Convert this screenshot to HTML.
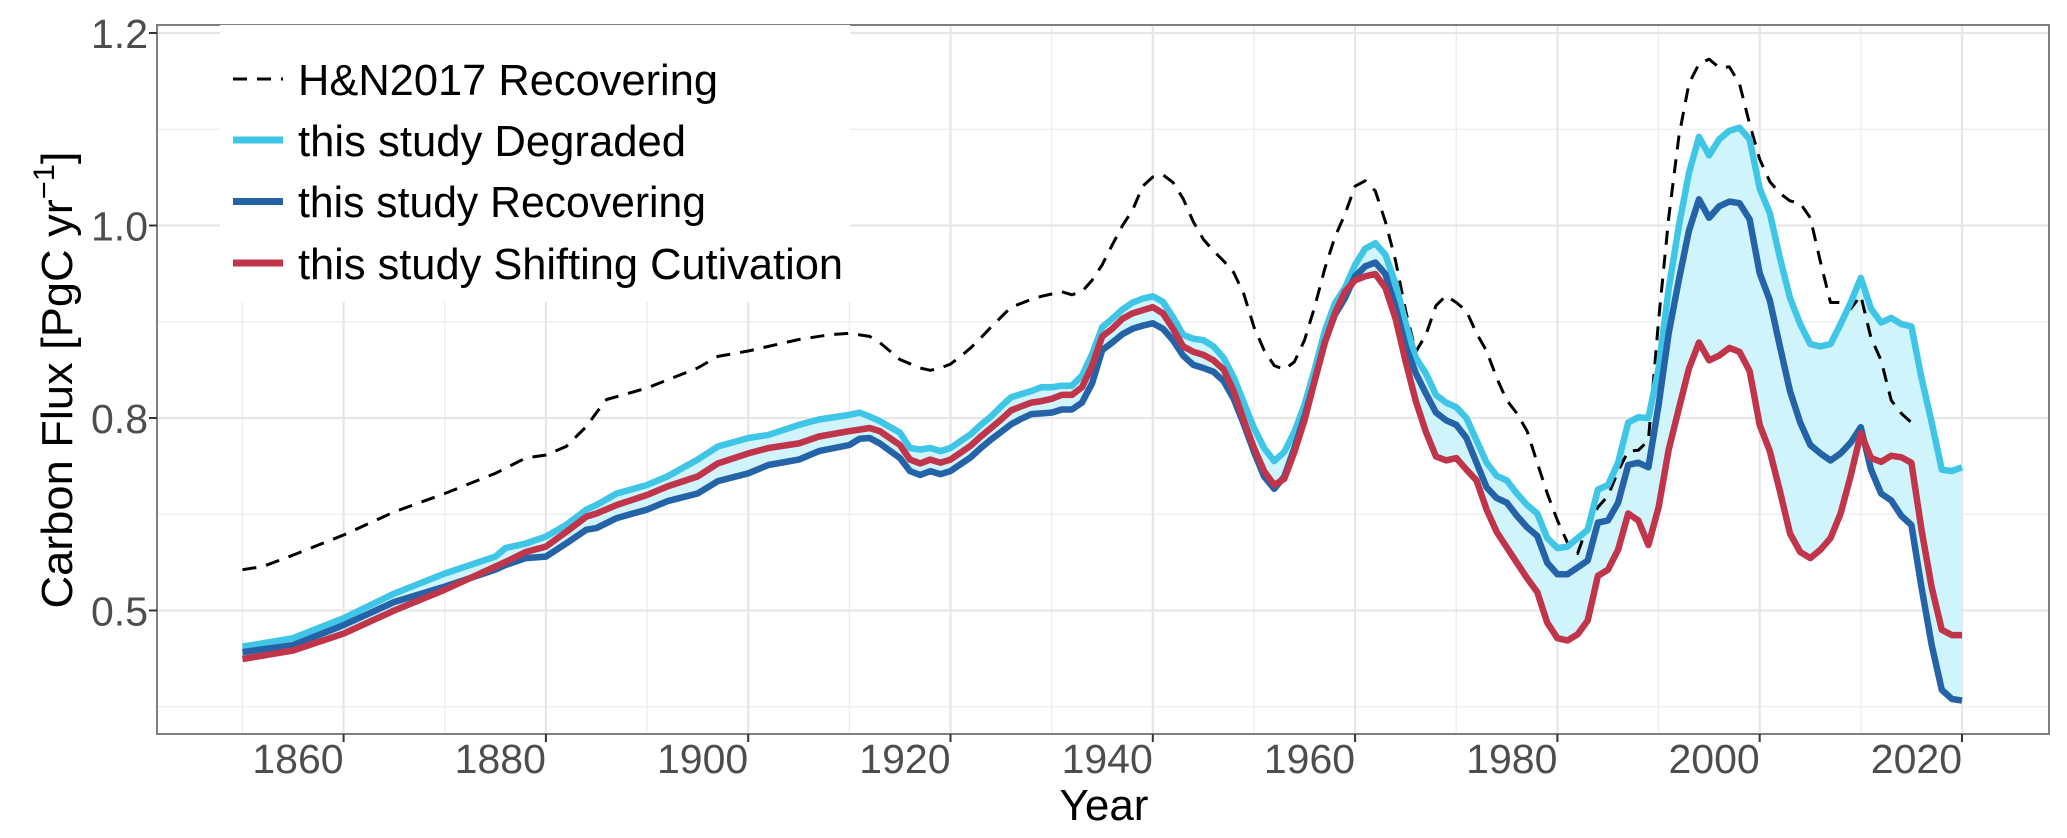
<!DOCTYPE html>
<html><head><meta charset="utf-8">
<style>
html,body{margin:0;padding:0;background:#fff;}
svg{display:block;font-family:"Liberation Sans",Arial,sans-serif;}
</style></head>
<body>
<svg id="chart" width="2067" height="838" viewBox="0 0 2067 838" xmlns="http://www.w3.org/2000/svg">
<rect x="0" y="0" width="2067" height="838" fill="#fff"/>
<g id="grid"></g>
<g id="ribbon"></g>
<g id="series"></g>
<rect x="157" y="25" width="1892" height="709" fill="none" stroke="#7f7f7f" stroke-width="2"/>
<g id="axes"></g>
<g>
  <rect x="220" y="25" width="630" height="277" fill="#fff"/>
  <g>
    <line x1="233" y1="79" x2="283" y2="79" stroke="#000" stroke-width="3" stroke-dasharray="14,10"/>
    <text x="298" y="95" font-size="44" fill="#000" textLength="420" lengthAdjust="spacingAndGlyphs">H&amp;N2017 Recovering</text>
  </g>
  <g>
    <line x1="233" y1="140" x2="283" y2="140" stroke="#3fc6e6" stroke-width="7"/>
    <text x="298" y="156" font-size="44" fill="#000" textLength="388" lengthAdjust="spacingAndGlyphs">this study Degraded</text>
  </g>
  <g>
    <line x1="233" y1="201.5" x2="283" y2="201.5" stroke="#2563a8" stroke-width="7"/>
    <text x="298" y="217" font-size="44" fill="#000" textLength="408" lengthAdjust="spacingAndGlyphs">this study Recovering</text>
  </g>
  <g>
    <line x1="233" y1="263" x2="283" y2="263" stroke="#c0354a" stroke-width="7"/>
    <text x="298" y="279" font-size="44" fill="#000" textLength="545" lengthAdjust="spacingAndGlyphs">this study Shifting Cutivation</text>
  </g>
</g>
<text x="1104" y="820" font-size="44" text-anchor="middle" fill="#000">Year</text>
<text transform="translate(72,380) rotate(-90)" font-size="44" text-anchor="middle" fill="#000" textLength="457" lengthAdjust="spacingAndGlyphs">Carbon Flux [PgC yr<tspan font-size="30" dy="-18">−1</tspan><tspan dy="18">]</tspan></text>
</svg>
<script>
const yearsA = [1850,1855,1860,1865,1870,1875,1876,1878,1880,1882,1884,1885,1887,1890,1892,1895,1897,1900,1902,1905,1907,1910,1911,1912,1913,1915,1916,1917,1918,
1919,1920,1921,1922,1923,1924,1925,1926,1927,1928,1929,
1930,1931,1932,1933,1934,1935,1936,1937,1938,1939,
1940,1941,1942,1943,1944,1945,1946,1947,1948,1949,
1950,1951,1952,1953,1954,1955,1956,1957,1958,1959,
1960,1961,1962,1963,1964,1965,1966,1967,1968,1969,
1970,1971,1972,1973,1974,1975,1976,1977,1978,1979,
1980,1981,1982,1983,1984,1985,1986,1987,1988,1989,
1990,1991,1992,1993,1994,1995,1996,1997,1998,1999,
2000,2001,2002,2003,2004,2005,2006,2007,2008,2009,
2010,2011,2012,2013,2014,2015,2016,2017,2018,2019,2020];
const degraded = [.453,.464,.490,.522,.548,.570,.581,.587,.596,.611,.631,.637,.652,.663,.674,.696,.713,.724,.728,.741,.748,.754,.757,.752,.746,.731,.711,.709,.711,
.707,.711,.720,.729,.741,.752,.765,.777,.781,.785,.790,
.790,.792,.792,.805,.833,.868,.879,.891,.900,.905,
.908,.901,.881,.858,.853,.851,.843,.828,.803,.770,
.737,.711,.694,.706,.732,.767,.813,.863,.899,.919,
.949,.970,.977,.962,.924,.873,.828,.808,.780,.770,
.764,.750,.721,.692,.675,.669,.652,.637,.626,.594,
.581,.583,.594,.605,.657,.663,.692,.744,.751,.750,
.814,.918,.999,1.068,1.115,1.091,1.112,1.123,1.127,1.112,
1.048,1.016,.958,.906,.872,.846,.843,.846,.872,.900,
.932,.892,.874,.880,.872,.869,.802,.744,.683,.681,.686];
const recovering = [.446,.455,.481,.511,.531,.553,.559,.568,.570,.587,.605,.607,.620,.631,.642,.652,.668,.678,.689,.696,.707,.715,.723,.724,.717,.698,.681,.676,.681,
.677,.681,.690,.699,.711,.722,.732,.742,.749,.755,.756,
.757,.761,.761,.770,.795,.838,.848,.859,.866,.870,
.873,.866,.851,.831,.819,.815,.810,.798,.775,.742,
.706,.674,.658,.674,.711,.752,.798,.848,.884,.906,
.934,.947,.952,.937,.894,.843,.808,.782,.757,.747,
.741,.724,.692,.660,.646,.640,.623,.608,.597,.562,
.547,.547,.556,.565,.614,.617,.640,.689,.692,.686,
.767,.860,.929,.993,1.034,1.010,1.025,1.031,1.029,1.008,
.938,.903,.843,.785,.744,.715,.704,.695,.704,.718,
.738,.683,.652,.643,.623,.611,.530,.455,.397,.385,.383];
const shifting = [.437,.448,.470,.500,.527,.557,.563,.576,.583,.602,.622,.626,.637,.650,.661,.674,.691,.704,.711,.717,.726,.733,.735,.737,.733,.715,.696,.691,.696,
.692,.696,.705,.714,.726,.737,.748,.760,.765,.770,.772,
.775,.780,.780,.790,.818,.856,.866,.879,.886,.890,
.894,.886,.866,.843,.836,.832,.825,.813,.785,.747,
.711,.681,.663,.671,.706,.747,.798,.848,.886,.914,
.929,.934,.937,.919,.879,.823,.772,.732,.700,.695,
.698,.683,.669,.631,.602,.582,.562,.542,.524,.484,
.464,.461,.469,.487,.545,.553,.579,.626,.617,.585,
.634,.709,.762,.814,.848,.825,.831,.841,.836,.811,
.741,.707,.655,.600,.576,.568,.579,.594,.626,.675,
.730,.698,.693,.701,.699,.692,.605,.530,.475,.468,.468];
const yearsHN = [1850,1852,1855,1860,1865,1870,1875,1878,1880,1882,1884,1885,1886,1890,1895,1897,1900,1905,1908,1910,1912,1913,1915,1917,1918,
1919,1920,1921,1922,1923,1924,1925,1926,1927,1928,1929,
1930,1931,1932,1933,1934,1935,1936,1937,1938,1939,
1940,1941,1942,1943,1944,1945,1946,1947,1948,1949,
1950,1951,1952,1953,1954,1955,1956,1957,1958,1959,
1960,1961,1962,1963,1964,1965,1966,1967,1968,1969,
1970,1971,1972,1973,1974,1975,1976,1977,1978,1979,
1980,1981,1982,1983,1984,1985,1986,1987,1988,1989,
1990,1991,1992,1993,1994,1995,1996,1997,1998,1999,
2000,2001,2002,2003,2004,2005,2006,2007,2008,2009,
2010,2011,2012,2013,2014,2015];
const hn2017 = [.553,.557,.572,.598,.628,.652,.678,.698,.702,.713,.739,.757,.774,.789,.815,.830,.837,.852,.858,.860,.856,.848,.826,.815,.812,
.815,.820,.830,.841,.854,.868,.881,.894,.899,.904,.908,
.911,.914,.910,.914,.929,.949,.975,1.000,1.020,1.051,
1.063,1.066,1.056,1.035,1.005,.982,.967,.954,.939,.911,
.868,.838,.818,.813,.823,.851,.894,.944,.985,1.015,
1.051,1.058,1.045,1.005,.954,.889,.836,.858,.896,.909,
.900,.889,.860,.837,.802,.773,.756,.733,.692,.652,
.617,.588,.574,.611,.634,.649,.681,.707,.708,.721,
.877,1.010,1.115,1.184,1.210,1.216,1.205,1.206,1.184,1.132,
1.086,1.057,1.042,1.032,1.029,1.010,.953,.900,.900,.892,
.909,.854,.825,.773,.756,.744];
const xTicks = [1860,1880,1900,1920,1940,1960,1980,2000,2020];
const xMinor = [1850,1870,1890,1910,1930,1950,1970,1990,2010,2030];
const yTicks = [0.5,0.75,1.0,1.25];
const yTickLabels = ["0.5","0.8","1.0","1.2"];
const yMinor = [0.375,0.625,0.875,1.125];

const NS = "http://www.w3.org/2000/svg";
function xs(yr){ return 343.6 + (yr - 1860) * 10.115; }
function ys(v){ return 225.5 - (v - 1.0) * 770; }
function mk(tag, attrs, parent){
  const e = document.createElementNS(NS, tag);
  for (const k in attrs) e.setAttribute(k, attrs[k]);
  parent.appendChild(e);
  return e;
}
const grid = document.getElementById('grid');
const L = 157, R = 2049, T = 25, B = 734;
xMinor.forEach(t => {
  const x = xs(t); if (x < L || x > R) return;
  const l = mk('line', {x1:x, x2:x, y1:T, y2:B, stroke:'#ebebeb', 'stroke-width':1.2}, grid);
  
  
});
yMinor.forEach(t => {
  const y = ys(t);
  const l = mk('line', {x1:L, x2:R, y1:y, y2:y, stroke:'#ebebeb', 'stroke-width':1.2}, grid);
  
  
});
xTicks.forEach(t => {
  const x = xs(t);
  const l = mk('line', {x1:x, x2:x, y1:T, y2:B, stroke:'#e6e6e6', 'stroke-width':2.2}, grid);
  
  
});
yTicks.forEach(t => {
  const y = ys(t);
  const l = mk('line', {x1:L, x2:R, y1:y, y2:y, stroke:'#e6e6e6', 'stroke-width':2.2}, grid);
  
  
});

// ribbon
const rib = document.getElementById('ribbon');
let up = [], lo = [];
yearsA.forEach((yr, i) => {
  const a = degraded[i], b = recovering[i], c = shifting[i];
  up.push(xs(yr).toFixed(1) + ',' + ys(Math.max(a,b,c)).toFixed(1));
  lo.push(xs(yr).toFixed(1) + ',' + ys(Math.min(a,b,c)).toFixed(1));
});
const band = mk('polygon', {points: up.concat(lo.reverse()).join(' '), fill:'#d0f4fb', stroke:'none'}, rib);



function line(years, vals, color, w, dash, name){
  const d = years.map((yr,i) => (i ? 'L' : 'M') + xs(yr).toFixed(1) + ',' + ys(vals[i]).toFixed(1)).join('');
  const attrs = {d:d, fill:'none', stroke:color, 'stroke-width':w, 'stroke-linejoin':'round', 'stroke-linecap':'butt'};
  if (dash) attrs['stroke-dasharray'] = dash;
  const p = mk('path', attrs, document.getElementById('series'));
  
  
}
line(yearsHN, hn2017, '#000', 3, '14,10', 'hn2017-recovering-line');
line(yearsA, degraded, '#3fc6e6', 6.5, null, 'degraded-line');
line(yearsA, recovering, '#2563a8', 6.5, null, 'recovering-line');
line(yearsA, shifting, '#c0354a', 6.5, null, 'shifting-cultivation-line');

// axes
const ax = document.getElementById('axes');
xTicks.forEach(t => {
  const x = xs(t);
  const tk = mk('line', {x1:x, x2:x, y1:B, y2:B+8, stroke:'#333', 'stroke-width':2}, ax);
  
  
  const tx = mk('text', {x:x, y:773, 'font-size':41, fill:'#4d4d4d', 'text-anchor':'end'}, ax);
  tx.textContent = String(t);
  
  
});
yTicks.forEach((t, i) => {
  const y = ys(t);
  const tk = mk('line', {x1:L-8, x2:L, y1:y, y2:y, stroke:'#333', 'stroke-width':2}, ax);
  
  
  const tx = mk('text', {x:148, y:y+15, 'font-size':41, fill:'#4d4d4d', 'text-anchor':'end'}, ax);
  tx.textContent = yTickLabels[i];
  
  
});
</script>
</body></html>
